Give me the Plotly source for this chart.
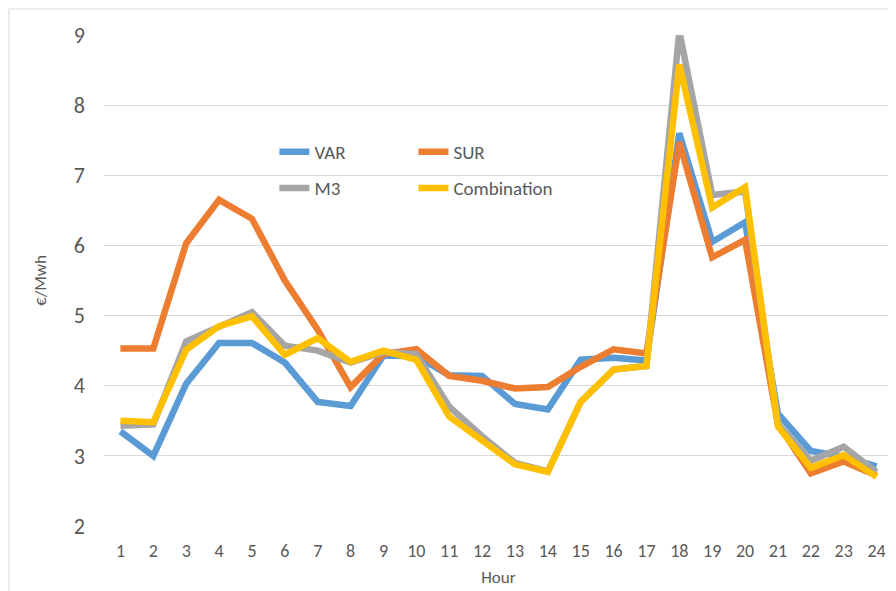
import plotly.graph_objects as go

hours = list(range(1, 25))

var_vals = [3.35, 3.00, 4.03, 4.61, 4.61, 4.33, 3.77, 3.71, 4.43, 4.42, 4.15, 4.14,
            3.74, 3.66, 4.37, 4.40, 4.36, 7.60, 6.05, 6.33, 3.60, 3.07, 2.99, 2.85]
sur_vals = [4.53, 4.53, 6.03, 6.65, 6.38, 5.50, 4.80, 3.98, 4.45, 4.52, 4.14, 4.07,
            3.96, 3.98, 4.27, 4.52, 4.46, 7.47, 5.83, 6.08, 3.45, 2.75, 2.92, 2.72]
m3_vals = [3.43, 3.45, 4.63, 4.83, 5.05, 4.57, 4.50, 4.33, 4.48, 4.45, 3.70, 3.28,
           2.90, 2.78, 3.77, 4.23, 4.28, 9.05, 6.72, 6.77, 3.45, 2.93, 3.13, 2.77]
comb_vals = [3.50, 3.48, 4.51, 4.85, 4.99, 4.44, 4.68, 4.34, 4.50, 4.37, 3.56, 3.22,
             2.88, 2.77, 3.77, 4.23, 4.28, 8.58, 6.54, 6.83, 3.42, 2.83, 3.01, 2.70]

series = [
    ("VAR", var_vals, "#5b9bd5", "legend"),
    ("SUR", sur_vals, "#ed7d31", "legend"),
    ("M3", m3_vals, "#a5a5a5", "legend2"),
    ("Combination", comb_vals, "#ffc000", "legend2"),
]

font_family = "Calibri, Carlito, Lato, sans-serif"
text_color = "#595959"

fig = go.Figure()

for name, vals, color, leg in series:
    fig.add_trace(go.Scatter(
        x=hours,
        y=vals,
        mode='lines',
        name=name,
        legend=leg,
        line=dict(color=color, width=6.5),
    ))

legend_common = dict(
    orientation='h',
    entrywidth=94,
    entrywidthmode='pixels',
    bgcolor='rgba(0,0,0,0)',
    font=dict(family=font_family, size=19, color=text_color),
    xanchor='left',
    yanchor='middle',
    itemwidth=30,
)

# the page body adds an 8px offset, margins are trimmed to compensate
fig.update_layout(
    width=896,
    height=591,
    plot_bgcolor='white',
    paper_bgcolor='white',
    margin=dict(l=96, r=11, t=27, b=73),
    font=dict(family=font_family, color=text_color),
    legend=dict(x=0.216, y=0.762, **legend_common),
    legend2=dict(x=0.216, y=0.688, **legend_common),
    xaxis=dict(
        range=[0.5, 24.5],
        tickmode='array',
        tickvals=hours,
        ticktext=[str(h) for h in hours],
        showgrid=False,
        zeroline=False,
        showline=False,
        ticks='',
        ticklabelstandoff=12,
        tickfont=dict(size=18, color=text_color),
        title=dict(text='Hour', font=dict(size=17, color=text_color), standoff=10),
    ),
    yaxis=dict(
        range=[2, 9],
        dtick=1,
        showgrid=True,
        gridcolor='#d9d9d9',
        gridwidth=1,
        zeroline=False,
        showline=False,
        ticks='',
        ticklabelstandoff=18,
        tickfont=dict(size=22, color=text_color),
        title=dict(text='€/Mwh', font=dict(size=17, color=text_color), standoff=22),
    ),
)

# chart area border (only the top/left edges are visible in the frame)
fig.add_shape(type='line', xref='paper', yref='paper',
              x0=-0.1204, x1=1.2, y0=1.053, y1=1.053,
              line=dict(color='#d9d9d9', width=1))
fig.add_shape(type='line', xref='paper', yref='paper',
              x0=-0.1204, x1=-0.1204, y0=-0.2, y1=1.053,
              line=dict(color='#d9d9d9', width=1))

fig.write_html("out.html")
